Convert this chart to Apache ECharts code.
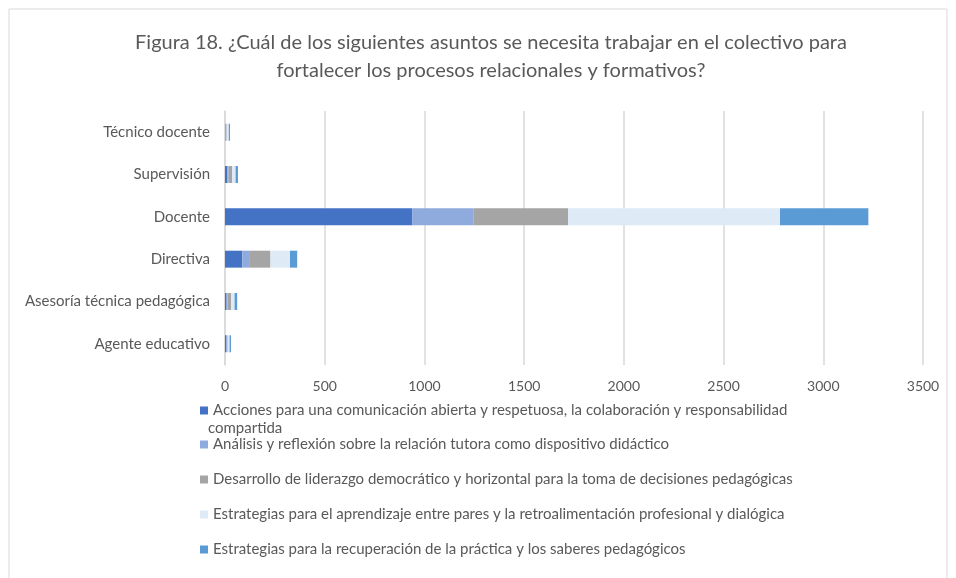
<!DOCTYPE html>
<html>
<head>
<meta charset="utf-8">
<script src="https://cdn.jsdelivr.net/npm/echarts@6/dist/echarts.min.js"></script>
<style>
html, body { margin: 0; padding: 0; background: #fff; }
#chart { width: 956px; height: 578px; }
</style>
</head>
<body>
<div id="chart"></div>
<script>
// categorías del eje vertical (de abajo hacia arriba)
var categorias = ['Agente educativo', 'Asesoría técnica pedagógica', 'Directiva', 'Docente', 'Supervisión', 'Técnico docente'];

// nombres de las series (leyenda)
var nombres = [
	'Acciones para una comunicación abierta y respetuosa, la colaboración y responsabilidad compartida',
	'Análisis y reflexión sobre la relación tutora como dispositivo didáctico',
	'Desarrollo de liderazgo democrático y horizontal para la toma de decisiones pedagógicas',
	'Estrategias para el aprendizaje entre pares y la retroalimentación profesional y dialógica',
	'Estrategias para la recuperación de la práctica y los saberes pedagógicos'
];

// valores, en el orden de categorias
var acciones = [6, 8, 87, 940, 12, 2];
var analisis = [5, 5, 38, 305, 6, 5];
var liderazgo = [3, 17, 103, 475, 17, 2];
var pares = [9, 18, 98, 1063, 18, 10];
var recuperacion = [7, 13, 36, 443, 12, 6];

var ticksX = [0, 500, 1000, 1500, 2000, 2500, 3000, 3500];

var colores = ['#4472C4', '#8FAADC', '#A5A5A5', '#DEEBF7', '#5B9BD5'];
var valores = [acciones, analisis, liderazgo, pares, recuperacion];

var fuente = 'Lato, "Open Sans", sans-serif';

var myChart = echarts.init(document.getElementById('chart'));

// una leyenda por serie, apiladas en vertical
var topsLeyenda = [398, 432, 467, 502, 537];
var leyendas = [];
var series = [];
for (var i = 0; i < nombres.length; i++) {
	leyendas.push({
		data: [nombres[i]],
		left: 195,
		top: topsLeyenda[i],
		itemWidth: 8,
		itemHeight: 8,
		icon: 'rect',
		selectedMode: false,
		textStyle: { color: '#595959', fontSize: 15, fontFamily: fuente },
		formatter: i === 0 ? function (n) { return 'Acciones para una comunicación abierta y respetuosa, la colaboración y responsabilidad'; } : null
	});
	series.push({
		name: nombres[i],
		type: 'bar',
		stack: 'total',
		barCategoryGap: '60%',
		itemStyle: { color: colores[i] },
		data: valores[i]
	});
}

var option = {
	animation: false,
	color: colores,
	title: {
		text: 'Figura 18. ¿Cuál de los siguientes asuntos se necesita trabajar en el colectivo para\nfortalecer los procesos relacionales y formativos?',
		left: 486,
		top: 24,
		textAlign: 'center',
		textStyle: {
			color: '#595959',
			fontSize: 20,
			fontWeight: 'normal',
			fontFamily: fuente,
			lineHeight: 28
		}
	},
	legend: leyendas,
	grid: {
		left: 225,
		right: 33,
		top: 111,
		bottom: 213
	},
	xAxis: {
		type: 'value',
		min: 0,
		max: 3500,
		interval: 500,
		axisLine: { show: false },
		axisTick: { show: false },
		axisLabel: {
			color: '#595959',
			fontSize: 14,
			fontFamily: fuente,
			margin: 14,
			formatter: function (v) { return ticksX.indexOf(v) >= 0 ? String(v) : ''; }
		},
		splitLine: { lineStyle: { color: '#d9d9d9', width: 1.5 } }
	},
	yAxis: {
		type: 'category',
		data: categorias,
		axisLine: { show: true, lineStyle: { color: '#d9d9d9', width: 1.5 } },
		axisTick: { show: false },
		axisLabel: { color: '#595959', fontSize: 15, fontFamily: fuente, margin: 15 }
	},
	graphic: [
		{
			type: 'rect',
			shape: { x: 9, y: 9, width: 938, height: 600 },
			style: { fill: 'none', stroke: '#d9d9d9', lineWidth: 1 },
			silent: true
		},
		{
			type: 'text',
			left: 208,
			top: 421,
			style: { text: 'compartida', fill: '#595959', font: '15px ' + fuente }
		}
	],
	series: series
};

myChart.setOption(option);
</script>
</body>
</html>
